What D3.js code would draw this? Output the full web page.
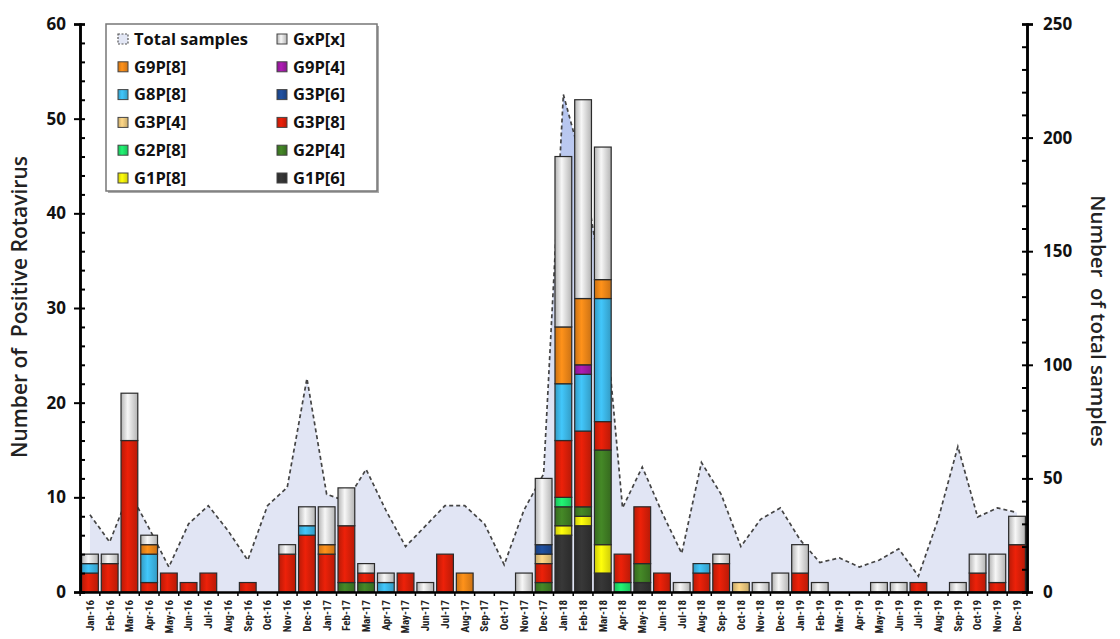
<!DOCTYPE html>
<html><head><meta charset="utf-8">
<script src="https://cdn.jsdelivr.net/npm/d3@7"></script>
<style>
body{margin:0;background:#fff;}
svg{display:block;}
text{font-family:"Open Sans",Lato,sans-serif;}
</style></head>
<body><svg id="c" width="1120" height="639"></svg>
<script>
const months = ["Jan-16","Feb-16","Mar-16","Apr-16","May-16","Jun-16","Jul-16","Aug-16","Sep-16","Oct-16","Nov-16","Dec-16",
"Jan-17","Feb-17","Mar-17","Apr-17","May-17","Jun-17","Jul-17","Aug-17","Sep-17","Oct-17","Nov-17","Dec-17",
"Jan-18","Feb-18","Mar-18","Apr-18","May-18","Jun-18","Jul-18","Aug-18","Sep-18","Oct-18","Nov-18","Dec-18",
"Jan-19","Feb-19","Mar-19","Apr-19","May-19","Jun-19","Jul-19","Aug-19","Sep-19","Oct-19","Nov-19","Dec-19"];

// stacked series, bottom to top
const G1P6 = [0,0,0,0,0,0,0,0,0,0,0,0, 0,0,0,0,0,0,0,0,0,0,0,0, 6,7,2,0,1,0,0,0,0,0,0,0, 0,0,0,0,0,0,0,0,0,0,0,0];
const G1P8 = [0,0,0,0,0,0,0,0,0,0,0,0, 0,0,0,0,0,0,0,0,0,0,0,0, 1,1,3,0,0,0,0,0,0,0,0,0, 0,0,0,0,0,0,0,0,0,0,0,0];
const G2P4 = [0,0,0,0,0,0,0,0,0,0,0,0, 0,1,1,0,0,0,0,0,0,0,0,1, 2,1,10,0,2,0,0,0,0,0,0,0, 0,0,0,0,0,0,0,0,0,0,0,0];
const G2P8 = [0,0,0,0,0,0,0,0,0,0,0,0, 0,0,0,0,0,0,0,0,0,0,0,0, 1,0,0,1,0,0,0,0,0,0,0,0, 0,0,0,0,0,0,0,0,0,0,0,0];
const G3P8 = [2,3,16,1,2,1,2,0,1,0,4,6, 4,6,1,0,2,0,4,0,0,0,0,2, 6,8,3,3,6,2,0,2,3,0,0,0, 2,0,0,0,0,0,1,0,0,2,1,5];
const G3P4 = [0,0,0,0,0,0,0,0,0,0,0,0, 0,0,0,0,0,0,0,0,0,0,0,1, 0,0,0,0,0,0,0,0,0,1,0,0, 0,0,0,0,0,0,0,0,0,0,0,0];
const G3P6 = [0,0,0,0,0,0,0,0,0,0,0,0, 0,0,0,0,0,0,0,0,0,0,0,1, 0,0,0,0,0,0,0,0,0,0,0,0, 0,0,0,0,0,0,0,0,0,0,0,0];
const G8P8 = [1,0,0,3,0,0,0,0,0,0,0,1, 0,0,0,1,0,0,0,0,0,0,0,0, 6,6,13,0,0,0,0,1,0,0,0,0, 0,0,0,0,0,0,0,0,0,0,0,0];
const G9P4 = [0,0,0,0,0,0,0,0,0,0,0,0, 0,0,0,0,0,0,0,0,0,0,0,0, 0,1,0,0,0,0,0,0,0,0,0,0, 0,0,0,0,0,0,0,0,0,0,0,0];
const G9P8 = [0,0,0,1,0,0,0,0,0,0,0,0, 1,0,0,0,0,0,0,2,0,0,0,0, 6,7,2,0,0,0,0,0,0,0,0,0, 0,0,0,0,0,0,0,0,0,0,0,0];
const GxPx = [1,1,5,1,0,0,0,0,0,0,1,2, 4,4,1,1,0,1,0,0,0,0,2,7, 18,21,14,0,0,0,1,0,1,0,1,2, 3,1,0,0,1,1,0,0,1,2,3,3];

const totalSamples = [34,22,44,28,11,30,38,27,14,38,46,94, 43,40,54,36,20,29,38,38,30,12,36,52,
  219,187,133,37,55,35,17,57,43,20,32,37, 23,13,15,11,14,19,7,32,64,33,37,35];

const leftTicks = [0,10,20,30,40,50,60];
const rightTicks = [0,50,100,150,200,250];

const seriesNames = ["G1P[6]","G1P[8]","G2P[4]","G2P[8]","G3P[8]","G3P[4]","G3P[6]","G8P[8]","G9P[4]","G9P[8]","GxP[x]"];
const seriesData = [G1P6,G1P8,G2P4,G2P8,G3P8,G3P4,G3P6,G8P8,G9P4,G9P8,GxPx];
const seriesColors = ["#333333","#f2ee0a","#3f7d24","#1fe06a","#d91e08","#e9c67c","#1d4a94","#3cb6e6","#a01aa6","#ef8618","#e2e2e2"];

const legendCol1 = ["Total samples","G9P[8]","G8P[8]","G3P[4]","G2P[8]","G1P[8]"];
const legendCol2 = ["GxP[x]","G9P[4]","G3P[6]","G3P[8]","G2P[4]","G1P[6]"];

const svg = d3.select("#c");
const defs = svg.append("defs");

const x = d3.scaleBand().domain(months).range([80,1027]).paddingInner(0.15).paddingOuter(0.08);
const yL = d3.scaleLinear().domain([0,60]).range([592,24]);
const yR = d3.scaleLinear().domain([0,250]).range([592,24]);

// gradients per series
seriesNames.forEach((n,i)=>{
  const c = d3.color(seriesColors[i]);
  const g = defs.append("linearGradient").attr("id","g"+i).attr("x1","0").attr("x2","1").attr("y1","0").attr("y2","0");
  let dark, light;
  if(n==="GxP[x]"){ dark="#b4b4b4"; light="#f7f7f7"; }
  else { dark=c.darker(0.45).formatHex(); light=c.brighter(0.25).formatHex(); }
  g.append("stop").attr("offset","0%").attr("stop-color",dark);
  g.append("stop").attr("offset","40%").attr("stop-color",light);
  g.append("stop").attr("offset","100%").attr("stop-color",dark);
});
const ag = defs.append("linearGradient").attr("id","areaG").attr("gradientUnits","userSpaceOnUse")
  .attr("x1",0).attr("x2",0).attr("y1",90).attr("y2",420);
ag.append("stop").attr("offset","0%").attr("stop-color","#b3c3ef");
ag.append("stop").attr("offset","100%").attr("stop-color","#e1e5f4");

// area + dashed line
const cx = d => x(d) + x.bandwidth()/2;
const area = d3.area().x((d,i)=>cx(months[i])).y0(yR(0)).y1(d=>yR(d));
const line = d3.line().x((d,i)=>cx(months[i])).y(d=>yR(d));
svg.append("path").datum(totalSamples).attr("d",area).attr("fill","url(#areaG)");
svg.append("path").datum(totalSamples).attr("d",line).attr("fill","none")
  .attr("stroke","#444").attr("stroke-width",1.7).attr("stroke-dasharray","4,3");

// stacked bars
const table = months.map((m,j)=>{ const o={month:m}; seriesNames.forEach((n,i)=>o[n]=seriesData[i][j]); return o; });
const stack = d3.stack().keys(seriesNames)(table);
const layers = svg.append("g").selectAll("g").data(stack).join("g")
  .attr("fill",(d,i)=>"url(#g"+i+")");
layers.selectAll("rect").data(d=>d.filter(s=>s[1]-s[0]>0)).join("rect")
  .attr("x",d=>x(d.data.month)).attr("width",x.bandwidth())
  .attr("y",d=>yL(d[1])).attr("height",d=>yL(d[0])-yL(d[1]))
  .attr("stroke","#2a2a2a").attr("stroke-width",1.2);

// left axis
const gL = svg.append("g").attr("transform","translate(80,0)");
gL.call(d3.axisLeft(yL).tickValues(leftTicks).tickSize(6).tickPadding(8));
gL.append("g").call(d3.axisRight(yL).tickValues(d3.range(0,61,2)).tickSize(5).tickFormat(""));
// right axis
const gR = svg.append("g").attr("transform","translate(1027,0)");
gR.call(d3.axisRight(yR).tickValues(rightTicks).tickSize(6).tickPadding(10));
gR.append("g").call(d3.axisLeft(yR).tickValues(d3.range(0,251,10)).tickSize(5).tickFormat(""));
// bottom axis
const gB = svg.append("g").attr("transform","translate(0,592)");
gB.call(d3.axisBottom(x).tickSize(0).tickPadding(6));
gB.selectAll(".tick text").attr("transform","rotate(-90)").attr("text-anchor","end")
  .attr("x",-8).attr("y",0).attr("dy","0.35em")
  .style("font-family","'Liberation Sans Narrow','Roboto Condensed',sans-serif").style("font-size","11px").style("font-weight","700").attr("fill","#222");
gB.append("g").selectAll("line").data(months.concat(["end"])).join("line")
  .attr("x1",(d,i)=> i<months.length ? x(d)-x.step()*x.paddingInner()/2 : 1027)
  .attr("x2",(d,i)=> i<months.length ? x(d)-x.step()*x.paddingInner()/2 : 1027)
  .attr("y1",0).attr("y2",4).attr("stroke","#000").attr("stroke-width",1.5);

[gL,gR,gB].forEach(g=>{
  g.selectAll(".domain").attr("stroke","#000").attr("stroke-width",2.5);
  g.selectAll(".tick line").attr("stroke","#000").attr("stroke-width",2);
});
[gL,gR].forEach(g=>g.selectAll(".tick text").style("font-family","'Open Sans',sans-serif").style("font-size","17px").style("font-weight","700").attr("fill","#111"));

// axis titles
svg.append("text").attr("transform","translate(27,307) rotate(-90)").attr("text-anchor","middle")
  .style("font-family","'Open Sans',sans-serif").style("font-size","21px").style("font-weight","600").attr("fill","#222")
  .style("white-space","pre").text("Number of  Positive Rotavirus");
svg.append("text").attr("transform","translate(1091,321) rotate(90)").attr("text-anchor","middle")
  .style("font-family","'Open Sans',sans-serif").style("font-size","20.5px").style("font-weight","600").attr("fill","#222")
  .style("white-space","pre").text("Number  of total samples");

// legend
const lg = svg.append("g");
lg.append("rect").attr("x",108).attr("y",26).attr("width",271).attr("height",167).attr("fill","#aaa");
lg.append("rect").attr("x",106).attr("y",24).attr("width",271).attr("height",167).attr("fill","#fff").attr("stroke","#777").attr("stroke-width",1.5);
const rowY = i => 39 + i*27.8;
function swatch(xp, yp, name){
  if(name==="Total samples"){
    lg.append("rect").attr("x",xp).attr("y",yp-5).attr("width",10).attr("height",10).attr("fill","#e3e7f5")
      .attr("stroke","#555").attr("stroke-width",1.2).attr("stroke-dasharray","2,1.5");
  } else {
    const i = seriesNames.indexOf(name);
    lg.append("rect").attr("x",xp).attr("y",yp-5).attr("width",10).attr("height",10).attr("fill","url(#g"+i+")")
      .attr("stroke","#444").attr("stroke-width",1);
  }
}
const legFont = "'Open Sans',sans-serif";
legendCol1.forEach((n,i)=>{ swatch(118,rowY(i),n);
  lg.append("text").attr("x",134).attr("y",rowY(i)).attr("dy","0.35em").style("font-family",legFont).style("font-size","16.5px").style("font-weight","700").attr("fill","#111").text(n); });
legendCol2.forEach((n,i)=>{ swatch(277,rowY(i),n);
  lg.append("text").attr("x",293).attr("y",rowY(i)).attr("dy","0.35em").style("font-family",legFont).style("font-size","16.5px").style("font-weight","700").attr("fill","#111").text(n); });
</script></body></html>
